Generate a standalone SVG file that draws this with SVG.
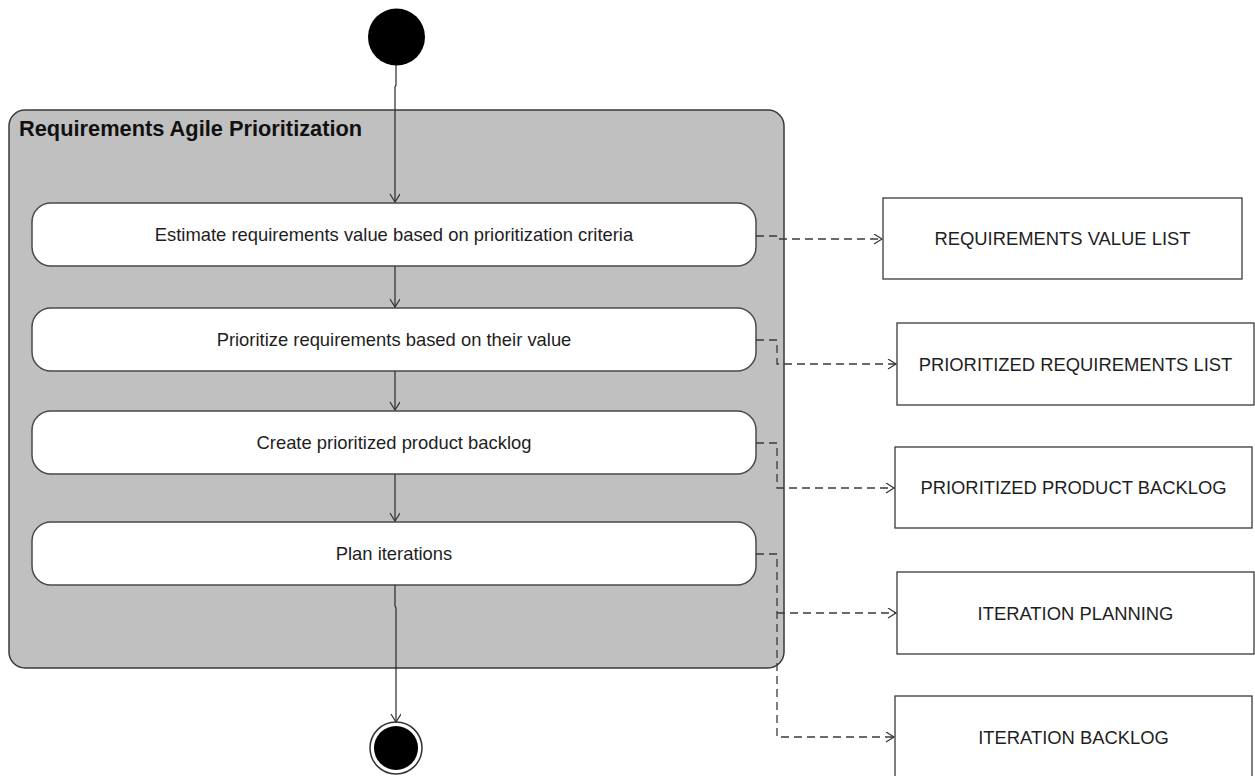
<svg xmlns="http://www.w3.org/2000/svg" width="1255" height="776" viewBox="0 0 1255 776">
  <style>
    .bg { fill: #ffffff; }
    .container { fill: #c0c0c0; stroke: #3a3a3a; stroke-width: 1.5; }
    .action { fill: #ffffff; stroke: #4a4a4a; stroke-width: 1.5; }
    .artifact { fill: #ffffff; stroke: #3a3a3a; stroke-width: 1.3; }
    .title { font-family: "Liberation Sans", Arial, sans-serif; font-weight: bold; font-size: 21.8px; fill: #111111; }
    .label { font-family: "Liberation Sans", Arial, sans-serif; font-size: 18.4px; fill: #1e1e1e; text-anchor: middle; }
    .flow { fill: none; stroke: #2a2a2a; stroke-width: 1.2; }
    .dep { fill: none; stroke: #3a3a3a; stroke-width: 1.3; stroke-dasharray: 8 5; }
  </style>
  <defs>
    <marker id="open" markerUnits="userSpaceOnUse" markerWidth="12" markerHeight="12" refX="9" refY="5" orient="auto">
      <path d="M1,0 L9,5 L1,10" fill="none" stroke="#333333" stroke-width="1.2"/>
    </marker>
  </defs>

  <rect class="bg" x="0" y="0" width="1255" height="776"/>

  <!-- composite state -->
  <g id="container">
    <rect class="container" x="9" y="110" width="775" height="558" rx="16" ry="16"/>
    <text class="title" x="19" y="136">Requirements Agile Prioritization</text>
  </g>

  <!-- initial and final pseudo-states -->
  <g id="start">
    <circle cx="396.5" cy="37" r="28.5" fill="#000000"/>
  </g>
  <g id="end">
    <circle cx="396" cy="748" r="26" fill="#ffffff" stroke="#333333" stroke-width="1.5"/>
    <circle cx="396" cy="748" r="22" fill="#000000"/>
  </g>

  <!-- activities -->
  <g id="estimate">
    <rect class="action" x="32" y="203" width="724" height="63" rx="19" ry="19"/>
    <text class="label" x="394" y="241">Estimate requirements value based on prioritization criteria</text>
  </g>
  <g id="prioritize">
    <rect class="action" x="32" y="308" width="724" height="63" rx="19" ry="19"/>
    <text class="label" x="394" y="346">Prioritize requirements based on their value</text>
  </g>
  <g id="backlog">
    <rect class="action" x="32" y="411" width="724" height="63" rx="19" ry="19"/>
    <text class="label" x="394" y="449">Create prioritized product backlog</text>
  </g>
  <g id="plan">
    <rect class="action" x="32" y="522" width="724" height="63" rx="19" ry="19"/>
    <text class="label" x="394" y="560">Plan iterations</text>
  </g>

  <!-- produced artifacts -->
  <g id="value-list">
    <rect class="artifact" x="883" y="198" width="359" height="81"/>
    <text class="label" x="1062.5" y="245">REQUIREMENTS VALUE LIST</text>
  </g>
  <g id="prioritized-list">
    <rect class="artifact" x="897" y="323" width="357" height="82"/>
    <text class="label" x="1075.5" y="370.5">PRIORITIZED REQUIREMENTS LIST</text>
  </g>
  <g id="product-backlog">
    <rect class="artifact" x="895" y="447" width="357" height="81"/>
    <text class="label" x="1073.5" y="494">PRIORITIZED PRODUCT BACKLOG</text>
  </g>
  <g id="iteration-planning">
    <rect class="artifact" x="897" y="572" width="357" height="82"/>
    <text class="label" x="1075.5" y="619.5">ITERATION PLANNING</text>
  </g>
  <g id="iteration-backlog">
    <rect class="artifact" x="895" y="696" width="357" height="90"/>
    <text class="label" x="1073.5" y="744">ITERATION BACKLOG</text>
  </g>

  <!-- transitions and dependencies -->
  <g id="connectors">
    <path class="flow" d="M396,65 V85 L395,87 V202" marker-end="url(#open)"/>
    <path class="flow" d="M395,266 V307" marker-end="url(#open)"/>
    <path class="flow" d="M395,371 V410" marker-end="url(#open)"/>
    <path class="flow" d="M395,474 V521" marker-end="url(#open)"/>
    <path class="flow" d="M395,585 V606 L396,608 V722" marker-end="url(#open)"/>

    <path class="dep" d="M756,236 H777 V239 H882" marker-end="url(#open)"/>
    <path class="dep" d="M756,340 H777 V364 H896" marker-end="url(#open)"/>
    <path class="dep" d="M756,443 H777 V488 H894" marker-end="url(#open)"/>
    <path class="dep" d="M756,554 H777 V737 H894" marker-end="url(#open)"/>
    <path class="dep" d="M777,613 H896" marker-end="url(#open)"/>
  </g>
</svg>
